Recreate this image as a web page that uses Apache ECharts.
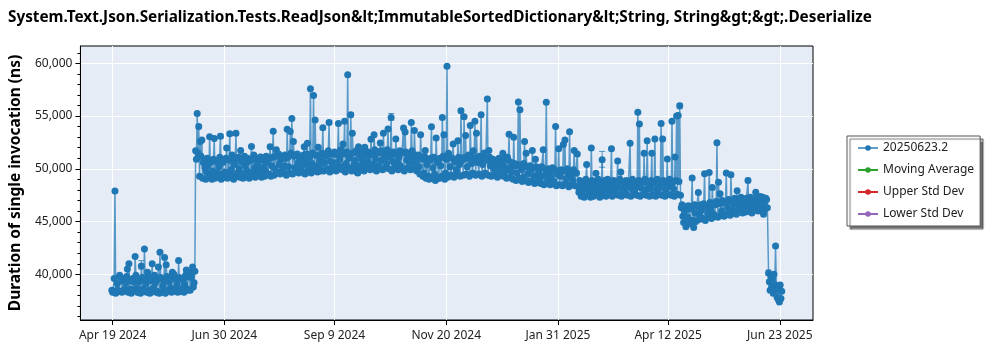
<!DOCTYPE html>
<html>
<head>
<meta charset="utf-8">
<title>ReadJson ImmutableSortedDictionary Deserialize</title>
<script src="https://cdn.jsdelivr.net/npm/echarts@6/dist/echarts.min.js"></script>
<style>
  html, body { margin: 0; padding: 0; background: #ffffff; }
  #chart { width: 1000px; height: 350px; }
</style>
</head>
<body>
<div id="chart"></div>
<script>
// ---- chart text ----
const chartTitle = 'System.Text.Json.Serialization.Tests.ReadJson&lt;ImmutableSortedDictionary&lt;String, String&gt;&gt;.Deserialize';
const yAxisTitle = 'Duration of single invocation (ns)';
const seriesNames = ['20250623.2', 'Moving Average', 'Upper Std Dev', 'Lower Std Dev'];

// ---- axis ticks ----
const xTickLabels = ['Apr 19 2024', 'Jun 30 2024', 'Sep 9 2024', 'Nov 20 2024', 'Jan 31 2025', 'Apr 12 2025', 'Jun 23 2025'];
const xAxisRange = ['2024-03-29T18:00Z', '2025-07-14T21:30Z'];
const yAxisRange = [35670, 61640];
const yMajorTicks = [40000, 45000, 50000, 55000, 60000];
const yMinorTicks = [36000, 37000, 38000, 39000, 41000, 42000, 43000, 44000, 46000, 47000, 48000, 49000,
                     51000, 52000, 53000, 54000, 56000, 57000, 58000, 59000, 61000];

// ---- benchmark runs ----
const runDates = [
  '2024-04-19','2024-04-20','2024-04-21','2024-04-22','2024-04-23','2024-04-24','2024-04-25','2024-04-26','2024-04-27','2024-04-28','2024-04-29','2024-04-30',
  '2024-05-01','2024-05-02','2024-05-03','2024-05-04','2024-05-05','2024-05-06','2024-05-07','2024-05-08','2024-05-09','2024-05-10',
  '2024-05-11','2024-05-12','2024-05-13','2024-05-14','2024-05-15','2024-05-16','2024-05-17','2024-05-18','2024-05-19','2024-05-20',
  '2024-05-21','2024-05-22','2024-05-23','2024-05-24','2024-05-25','2024-05-26','2024-05-27','2024-05-28','2024-05-29','2024-05-30','2024-05-31',
  '2024-06-01','2024-06-02','2024-06-03','2024-06-04','2024-06-05','2024-06-06','2024-06-07','2024-06-08','2024-06-09','2024-06-10',
  '2024-06-11','2024-06-12','2024-06-13','2024-06-14','2024-06-15','2024-06-16','2024-06-17','2024-06-18','2024-06-19','2024-06-20',
  '2024-06-21','2024-06-22','2024-06-23','2024-06-24','2024-06-25','2024-06-26','2024-06-27','2024-06-28','2024-06-29','2024-06-30',
  '2024-07-01','2024-07-02','2024-07-03','2024-07-04','2024-07-05','2024-07-06','2024-07-07','2024-07-08','2024-07-09','2024-07-10',
  '2024-07-11','2024-07-12','2024-07-13','2024-07-14','2024-07-15','2024-07-16','2024-07-17','2024-07-18','2024-07-19','2024-07-20',
  '2024-07-21','2024-07-22','2024-07-23','2024-07-24','2024-07-25','2024-07-26','2024-07-27','2024-07-28','2024-07-29','2024-07-30','2024-07-31',
  '2024-08-01','2024-08-02','2024-08-03','2024-08-04','2024-08-05','2024-08-06','2024-08-07','2024-08-08','2024-08-09','2024-08-10',
  '2024-08-11','2024-08-12','2024-08-13','2024-08-14','2024-08-15','2024-08-16','2024-08-17','2024-08-18','2024-08-19','2024-08-20',
  '2024-08-21','2024-08-22','2024-08-23','2024-08-24','2024-08-25','2024-08-26','2024-08-27','2024-08-28','2024-08-29','2024-08-30','2024-08-31',
  '2024-09-01','2024-09-02','2024-09-03','2024-09-04','2024-09-05','2024-09-06','2024-09-07','2024-09-08','2024-09-09','2024-09-10',
  '2024-09-11','2024-09-12','2024-09-13','2024-09-14','2024-09-15','2024-09-16','2024-09-17','2024-09-18','2024-09-19','2024-09-20',
  '2024-09-21','2024-09-22','2024-09-23','2024-09-24','2024-09-25','2024-09-26','2024-09-27','2024-09-28','2024-09-29','2024-09-30',
  '2024-10-01','2024-10-02','2024-10-03','2024-10-04','2024-10-05','2024-10-06','2024-10-07','2024-10-08','2024-10-09','2024-10-10',
  '2024-10-11','2024-10-12','2024-10-13','2024-10-14','2024-10-15','2024-10-16','2024-10-17','2024-10-18','2024-10-19','2024-10-20',
  '2024-10-21','2024-10-22','2024-10-23','2024-10-24','2024-10-25','2024-10-26','2024-10-27','2024-10-28','2024-10-29','2024-10-30','2024-10-31',
  '2024-11-01','2024-11-02','2024-11-03','2024-11-04','2024-11-05','2024-11-06','2024-11-07','2024-11-08','2024-11-09','2024-11-10',
  '2024-11-11','2024-11-12','2024-11-13','2024-11-14','2024-11-15','2024-11-16','2024-11-17','2024-11-18','2024-11-19','2024-11-20',
  '2024-11-21','2024-11-22','2024-11-23','2024-11-24','2024-11-25','2024-11-26','2024-11-27','2024-11-28','2024-11-29','2024-11-30',
  '2024-12-01','2024-12-02','2024-12-03','2024-12-04','2024-12-05','2024-12-06','2024-12-07','2024-12-08','2024-12-09','2024-12-10',
  '2024-12-11','2024-12-12','2024-12-13','2024-12-14','2024-12-15','2024-12-16','2024-12-17','2024-12-18','2024-12-19','2024-12-20',
  '2024-12-21','2024-12-22','2024-12-23','2024-12-24','2024-12-25','2024-12-26','2024-12-27','2024-12-28','2024-12-29','2024-12-30','2024-12-31',
  '2025-01-01','2025-01-02','2025-01-03','2025-01-04','2025-01-05','2025-01-06','2025-01-07','2025-01-08','2025-01-09','2025-01-10',
  '2025-01-11','2025-01-12','2025-01-13','2025-01-14','2025-01-15','2025-01-16','2025-01-17','2025-01-18','2025-01-19','2025-01-20',
  '2025-01-21','2025-01-22','2025-01-23','2025-01-24','2025-01-25','2025-01-26','2025-01-27','2025-01-28','2025-01-29','2025-01-30','2025-01-31',
  '2025-02-01','2025-02-02','2025-02-03','2025-02-04','2025-02-05','2025-02-06','2025-02-07','2025-02-08','2025-02-09','2025-02-10',
  '2025-02-11','2025-02-12','2025-02-13','2025-02-14','2025-02-15','2025-02-16','2025-02-17','2025-02-18','2025-02-19','2025-02-20',
  '2025-02-21','2025-02-22','2025-02-23','2025-02-24','2025-02-25','2025-02-26','2025-02-27','2025-02-28',
  '2025-03-01','2025-03-02','2025-03-03','2025-03-04','2025-03-05','2025-03-06','2025-03-07','2025-03-08','2025-03-09','2025-03-10',
  '2025-03-11','2025-03-12','2025-03-13','2025-03-14','2025-03-15','2025-03-16','2025-03-17','2025-03-18','2025-03-19','2025-03-20',
  '2025-03-21','2025-03-22','2025-03-23','2025-03-24','2025-03-25','2025-03-26','2025-03-27','2025-03-28','2025-03-29','2025-03-30','2025-03-31',
  '2025-04-01','2025-04-02','2025-04-03','2025-04-04','2025-04-05','2025-04-06','2025-04-07','2025-04-08','2025-04-09','2025-04-10',
  '2025-04-11','2025-04-12','2025-04-13','2025-04-14','2025-04-15','2025-04-16','2025-04-17','2025-04-18','2025-04-19','2025-04-20',
  '2025-04-21','2025-04-22','2025-04-23','2025-04-24','2025-04-25','2025-04-26','2025-04-27','2025-04-28','2025-04-29','2025-04-30',
  '2025-05-01','2025-05-02','2025-05-03','2025-05-04','2025-05-05','2025-05-06','2025-05-07','2025-05-08','2025-05-09','2025-05-10',
  '2025-05-11','2025-05-12','2025-05-13','2025-05-14','2025-05-15','2025-05-16','2025-05-17','2025-05-18','2025-05-19','2025-05-20',
  '2025-05-21','2025-05-22','2025-05-23','2025-05-24','2025-05-25','2025-05-26','2025-05-27','2025-05-28','2025-05-29','2025-05-30','2025-05-31',
  '2025-06-01','2025-06-02','2025-06-03','2025-06-04','2025-06-05','2025-06-06','2025-06-07','2025-06-08','2025-06-09','2025-06-10',
  '2025-06-11','2025-06-12','2025-06-13','2025-06-14','2025-06-15',
  '2025-06-16T06:00Z','2025-06-16T18:00Z','2025-06-17T06:00Z','2025-06-17T18:00Z','2025-06-18T06:00Z','2025-06-18T18:00Z',
  '2025-06-19T06:00Z','2025-06-19T18:00Z','2025-06-20T06:00Z','2025-06-20T18:00Z','2025-06-21T06:00Z','2025-06-21T18:00Z',
  '2025-06-22T06:00Z','2025-06-22T18:00Z','2025-06-23T06:00Z','2025-06-23T18:00Z','2025-06-24T06:00Z','2025-06-24T18:00Z'
];

// mean duration per run, in nanoseconds
const durationNs = [
  // Apr 2024
  38500, 38450, 47900, 38400, 38500, 39900, 39400, 38450, 39600, 39200, 40500, 41000,
  // May 2024
  38600, 38400, 39300, 41700, 38700, 38300, 39400, 40800, 38600, 42400,
  39100, 40200, 38500, 38300, 41000, 38700, 39200, 38400, 40700, 42100,
  38300, 38900, 41600, 40900, 38400, 39300, 38700, 40200, 40000, 38500, 39000,
  // Jun 2024
  41300, 38600, 38400, 39400, 39000, 40400, 38500, 40200, 39700, 40700,
  39200, 51700, 55250, 54000, 52600, 52740, 50600, 50100, 49700, 50300,
  53050, 49400, 49800, 52880, 49300, 49600, 50200, 53090, 49500, 49200,
  // Jul 2024
  49700, 51980, 49400, 53330, 49900, 49300, 50400, 53360, 49600, 50000,
  51730, 49500, 49200, 50300, 49800, 50700, 49400, 52110, 49700, 50100,
  49300, 50500, 49900, 51130, 49600, 50200, 49800, 50600, 49500, 52100, 50300,
  // Aug 2024
  53550, 50000, 51800, 49700, 50400, 50900, 49900, 50300, 51000, 53740,
  50200, 53530, 54760, 52600, 50100, 49800, 50600, 51100, 50000, 50400,
  52100, 50700, 52430, 50200, 57590, 50500, 56940, 54630, 50300, 52040, 50800,
  // Sep 2024
  50400, 53900, 50600, 51200, 50000, 54390, 50700, 50300, 51400, 50100,
  50600, 54300, 50900, 50200, 52360, 54500, 50500, 58910, 51000, 55130,
  53360, 50400, 50800, 49700, 52090, 50300, 51000, 50600, 52040, 50200,
  // Oct 2024
  50700, 51300, 52800, 50400, 53240, 50900, 51500, 50300, 52450, 50800,
  53360, 51000, 50500, 53780, 51200, 54870, 50700, 51400, 52830, 50600,
  51100, 50300, 51600, 53870, 53500, 50800, 51300, 50500, 54400, 51000, 53620,
  // Nov 2024
  50600, 51200, 50200, 53240, 50900, 49600, 51730, 50400, 49300, 50800,
  53980, 50100, 49500, 52930, 50600, 49100, 50300, 54870, 53240, 49600,
  59730, 51480, 50200, 49400, 52360, 50700, 49900, 52670, 50400, 55510,
  // Dec 2024
  50800, 54940, 53150, 50200, 51300, 54100, 50500, 51700, 54500, 53360,
  50600, 51200, 55130, 50400, 51500, 50900, 56610, 51730, 50300, 50700,
  50100, 50500, 49900, 50300, 50600, 50000, 51480, 50200, 49800, 51100, 53270,
  // Jan 2025
  50100, 49700, 52980, 50300, 49600, 56340, 55590, 49900, 49200, 52600,
  51480, 49500, 48800, 49900, 51730, 49300, 50900, 48700, 49600, 49100,
  50200, 51800, 49400, 56300, 48900, 49700, 49200, 50100, 48800, 54000, 49500,
  // Feb 2025
  51900, 49300, 49800, 52300, 52740, 49100, 49700, 53510, 49400, 48900,
  51730, 49600, 51400, 47780, 48400, 47900, 48600, 48100, 50400, 48300,
  47800, 51980, 48500, 48000, 49580, 48200, 48700, 47900,
  // Mar 2025
  50850, 48300, 48800, 47800, 48500, 48100, 51900, 48400, 47900, 48600,
  50740, 48200, 49690, 48000, 48500, 47700, 48300, 48800, 52420, 48100,
  48600, 47900, 48400, 55350, 54250, 48200, 48700, 51470, 48000, 52670, 48400,
  // Apr 2025
  48100, 51470, 48600, 52830, 48000, 48500, 48200, 54300, 52830, 48400,
  47900, 50930, 48300, 48700, 54500, 48100, 51130, 55000, 55060, 55980,
  46300, 45500, 46000, 44500, 45400, 46200, 45100, 49130, 44440, 45800,
  // May 2025
  46500, 47760, 45600, 46100, 45300, 49520, 46400, 45800, 49660, 46200,
  48230, 45700, 46600, 52460, 48730, 47630, 46000, 46800, 45600, 49610,
  46300, 47000, 49430, 46100, 46700, 45900, 47930, 46500, 47100, 46200, 46800,
  // Jun 2025
  46400, 47200, 48890, 46600, 47000, 46300, 46900, 47790, 46500, 47100,
  47380, 46700, 45700, 46900, 47090,
  40120, 39300, 38490, 39750, 38900, 39500, 38200, 40000, 38700, 42680,
  38960, 37800, 38500, 37540, 37380, 38990, 37700, 38400
];

// second (midday) run on each of the daily dates above, Apr 19 2024 .. Jun 15 2025, in nanoseconds
const middayRunNs = [
  // Apr 2024
  38300, 39600, 38200, 39100, 38400, 39700, 38300, 39500, 38600, 39800, 38300, 39400,
  // May 2024
  38200, 39600, 38500, 39900, 38300, 39300, 38200, 39700, 38400, 39500,
  38300, 39800, 38200, 39400, 38600, 39900, 38300, 39500, 38200, 39700,
  38400, 39300, 38200, 39800, 38500, 39600, 38300, 39900, 38400, 39500, 38300,
  // Jun 2024
  39700, 38400, 39600, 38300, 39900, 38600, 39800, 38500, 40100, 38800,
  40300, 50900, 51500, 49300, 51200, 49100, 50800, 49000, 51000, 49200,
  50600, 49000, 50900, 49100, 50700, 49300, 51100, 49000, 50600, 49200,
  // Jul 2024
  51000, 49100, 50800, 49200, 51300, 49000, 50900, 49300, 51100, 49200,
  50700, 49100, 51200, 49400, 51000, 49100, 50800, 49300, 51300, 49200,
  50900, 49400, 51100, 49200, 50800, 49300, 51200, 49500, 51000, 49300, 51100,
  // Aug 2024
  49400, 51200, 49600, 51400, 49500, 51000, 49700, 51300, 49400, 51100,
  49600, 51500, 49500, 51200, 49800, 51400, 49600, 51000, 49700, 51300,
  49500, 51400, 49800, 51100, 49600, 51500, 49900, 51300, 49700, 51200, 49800,
  // Sep 2024
  51500, 49800, 51300, 49900, 51700, 49700, 51400, 50000, 51600, 49800,
  51300, 50000, 51800, 49900, 51400, 49700, 51600, 50100, 51300, 49800,
  51500, 49900, 51700, 49600, 51400, 50000, 51600, 49800, 51300, 50000,
  // Oct 2024
  51600, 49900, 51400, 50100, 51800, 49800, 51500, 50000, 51700, 49900,
  51400, 50100, 51800, 50000, 51500, 49800, 51600, 50200, 51400, 49900,
  51700, 50000, 51500, 49800, 51600, 50100, 51400, 49900, 51700, 50000, 51300,
  // Nov 2024
  49800, 51300, 49500, 51100, 49300, 51200, 49100, 50900, 49000, 51000,
  49200, 51100, 48900, 50800, 49100, 51000, 49300, 51200, 49000, 50900,
  49200, 51100, 49400, 51000, 49200, 50800, 49500, 51100, 49300, 51000,
  // Dec 2024
  49400, 51100, 49500, 51000, 49300, 51200, 49600, 50900, 49400, 51100,
  49500, 50900, 49300, 51000, 49600, 50800, 49400, 51100, 49300, 50900,
  49500, 50800, 49200, 51000, 49400, 50700, 49300, 50900, 49100, 50800, 49200,
  // Jan 2025
  50600, 49000, 50500, 48900, 50400, 49100, 50300, 48800, 50500, 48900,
  50200, 48700, 50300, 48800, 50100, 48600, 50200, 48700, 50000, 48600,
  50100, 48500, 49900, 48700, 50000, 48500, 49800, 48600, 49900, 48400, 49700,
  // Feb 2025
  48500, 49900, 48400, 49800, 48600, 50000, 48300, 49700, 48500, 49900,
  48400, 49600, 48300, 48900, 47400, 48800, 47300, 49000, 47500, 48700,
  47300, 48900, 47400, 48800, 47600, 49000, 47300, 48700,
  // Mar 2025
  47500, 48900, 47400, 49000, 47600, 48700, 47400, 48900, 47600, 48800,
  47500, 49000, 47400, 48700, 47600, 48900, 47500, 48800, 47400, 49000,
  47600, 48700, 47500, 48900, 47400, 48800, 47600, 49000, 47500, 48700, 47400,
  // Apr 2025
  48900, 47500, 48800, 47400, 49000, 47600, 48700, 47500, 48900, 47400,
  48800, 47600, 49000, 47500, 48700, 47400, 48900, 47600, 48800, 47500,
  46600, 44900, 46400, 45000, 46500, 44800, 46300, 45100, 46600, 45000,
  // May 2025
  46400, 45200, 46600, 45300, 46700, 45100, 46500, 45400, 46800, 45300,
  46600, 45500, 46900, 45400, 46700, 45600, 47000, 45500, 46800, 45700,
  47100, 45600, 46900, 45800, 47200, 45700, 47000, 45900, 47300, 45800, 47100,
  // Jun 2025
  45900, 47200, 46000, 47300, 45800, 47100, 46100, 47300, 46000, 47200,
  46200, 47300, 46100, 47200, 46300
];

// runs that carry a visible spread (low / high of the measured interval)
const errorBarDates = ['2024-05-08', '2024-06-14', '2024-06-28', '2024-07-04', '2024-07-08', '2024-09-06',
                       '2024-09-20', '2024-10-16', '2024-11-30', '2025-03-01', '2025-04-20', '2025-06-03', '2025-06-16T06:00Z'];
const errorBarLow  = [40500, 53800, 52900, 53150, 53180, 54200, 54950, 54600, 55330, 50150, 55700, 48700, 39900];
const errorBarHigh = [41300, 54200, 53280, 53500, 53540, 54580, 55310, 55240, 55700, 51650, 56200, 49100, 40400];

// ---- helpers ----
const MONTH_ABBR = ['Jan', 'Feb', 'Mar', 'Apr', 'May', 'Jun', 'Jul', 'Aug', 'Sep', 'Oct', 'Nov', 'Dec'];
const HOUR_MS = 3600 * 1000;
function parseTickLabel(label) {
  const parts = label.split(' ');
  return Date.UTC(+parts[2], MONTH_ABBR.indexOf(parts[0]), +parts[1], 12);
}
function parseRunDate(s) {
  return Date.parse(s.length > 10 ? s : s + 'T00:00:00Z');
}
const xTickValues = xTickLabels.map(parseTickLabel);
function formatXTick(v) {
  const i = xTickValues.indexOf(v);
  if (i >= 0) return xTickLabels[i];
  const d = new Date(v);
  return MONTH_ABBR[d.getUTCMonth()] + ' ' + d.getUTCDate() + ' ' + d.getUTCFullYear();
}

const FONT = '"Noto Sans", "Open Sans", sans-serif';
const BLUE = '#1f77b4';
const legendColors = [BLUE, '#2ca02c', '#d62728', '#9467bd'];

// all runs in time order: the listed runs plus the midday run of each daily date
const runPoints = runDates.map((d, i) => [parseRunDate(d), durationNs[i]])
  .concat(middayRunNs.map((v, i) => [parseRunDate(runDates[i]) + 12 * HOUR_MS, v]))
  .sort((a, b) => a[0] - b[0]);
const errorPoints = errorBarDates.map((d, i) => [parseRunDate(d), errorBarLow[i], errorBarHigh[i]]);

const chart = echarts.init(document.getElementById('chart'), null, { renderer: 'canvas' });

const option = {
  animation: false,
  backgroundColor: '#ffffff',
  title: {
    text: chartTitle,
    left: 3,
    top: 5,
    textStyle: { fontFamily: FONT, fontSize: 15.3, fontWeight: 'bold', color: '#000000' }
  },
  legend: {
    data: seriesNames,
    orient: 'vertical',
    left: 847,
    top: 136,
    padding: [6, 6, 6, 10],
    itemGap: 10,
    itemWidth: 20,
    itemHeight: 7,
    backgroundColor: '#ffffff',
    borderColor: '#555555',
    borderWidth: 1,
    borderRadius: 0,
    shadowColor: 'rgba(0,0,0,0.55)',
    shadowBlur: 1,
    shadowOffsetX: 3,
    shadowOffsetY: 3,
    textStyle: { fontFamily: FONT, fontSize: 12, color: '#222222' }
  },
  grid: {
    left: 70,
    right: 187,
    top: 46,
    bottom: 30,
    show: true,
    backgroundColor: '#e5ecf6',
    borderColor: '#000000',
    borderWidth: 1
  },
  xAxis: {
    type: 'value',
    min: parseRunDate(xAxisRange[0]),
    max: parseRunDate(xAxisRange[1]),
    axisLine: { show: true, onZero: false, lineStyle: { color: '#000000', width: 1 } },
    axisTick: { show: true, inside: false, length: 5, customValues: xTickValues, lineStyle: { color: '#000000' } },
    axisLabel: {
      customValues: xTickValues,
      formatter: formatXTick,
      margin: 10,
      fontFamily: FONT, fontSize: 12, color: '#222222'
    },
    splitLine: { show: true, lineStyle: { color: '#ffffff', width: 1 } }
  },
  yAxis: [
    {
      type: 'value',
      position: 'left',
      min: yAxisRange[0],
      max: yAxisRange[1],
      name: yAxisTitle,
      nameLocation: 'middle',
      nameGap: 48,
      nameTextStyle: { fontFamily: FONT, fontSize: 15.5, fontWeight: 'bold', color: '#000000' },
      axisLine: { show: true, lineStyle: { color: '#000000', width: 1 } },
      axisTick: { show: true, inside: false, length: 5, customValues: yMajorTicks, lineStyle: { color: '#000000' } },
      axisLabel: {
        customValues: yMajorTicks,
        formatter: v => v.toLocaleString('en-US'),
        margin: 8,
        fontFamily: FONT, fontSize: 12, color: '#222222'
      },
      splitLine: { show: true, lineStyle: { color: '#ffffff', width: 1 } }
    },
    {
      // minor ticks every 1,000 ns
      type: 'value',
      position: 'left',
      min: yAxisRange[0],
      max: yAxisRange[1],
      axisLine: { show: false },
      axisLabel: { show: false },
      splitLine: { show: false },
      axisTick: { show: true, inside: false, length: 3, customValues: yMinorTicks, lineStyle: { color: '#000000' } }
    }
  ],
  series: [
    {
      name: seriesNames[0],
      type: 'line',
      data: runPoints,
      color: legendColors[0],
      symbol: 'circle',
      symbolSize: 7,
      showSymbol: true,
      showAllSymbol: true,
      itemStyle: { color: BLUE },
      lineStyle: { color: BLUE, width: 1.5, opacity: 0.72 },
      emphasis: { disabled: true },
      clip: true,
      z: 3
    },
    {
      type: 'custom',
      data: errorPoints,
      encode: { x: 0, y: [1, 2] },
      clip: true,
      silent: true,
      z: 4,
      renderItem: function (params, api) {
        const x = api.value(0);
        const lo = api.coord([x, api.value(1)]);
        const hi = api.coord([x, api.value(2)]);
        const w = 3;
        const style = { stroke: BLUE, lineWidth: 1, opacity: 0.75 };
        return {
          type: 'group',
          children: [
            { type: 'line', shape: { x1: lo[0], y1: lo[1], x2: hi[0], y2: hi[1] }, style: style },
            { type: 'line', shape: { x1: lo[0] - w, y1: lo[1], x2: lo[0] + w, y2: lo[1] }, style: style },
            { type: 'line', shape: { x1: hi[0] - w, y1: hi[1], x2: hi[0] + w, y2: hi[1] }, style: style }
          ]
        };
      }
    },
    { name: seriesNames[1], type: 'line', data: [], color: legendColors[1], symbol: 'circle', symbolSize: 6, lineStyle: { width: 1.4 } },
    { name: seriesNames[2], type: 'line', data: [], color: legendColors[2], symbol: 'circle', symbolSize: 6, lineStyle: { width: 1.4 } },
    { name: seriesNames[3], type: 'line', data: [], color: legendColors[3], symbol: 'circle', symbolSize: 6, lineStyle: { width: 1.4 } }
  ]
};

chart.setOption(option);
</script>
</body>
</html>
